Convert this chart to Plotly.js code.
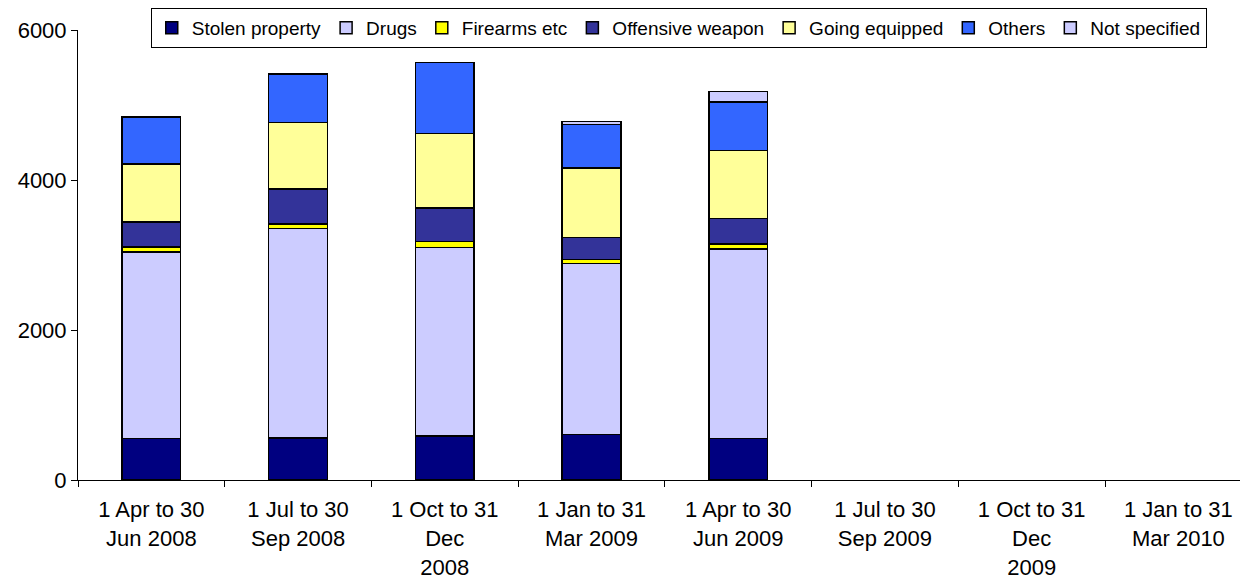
<!DOCTYPE html>
<html>
<head>
<meta charset="utf-8">
<script src="https://cdn.plot.ly/plotly-3.0.1.min.js"></script>
<style>html,body{margin:0;padding:0;background:#fff;}#chart{width:1240px;height:579px;}</style>
</head>
<body>
<div id="chart"></div>
<script>
const categories = [
  "1 Apr to 30<br>Jun 2008",
  "1 Jul to 30<br>Sep 2008",
  "1 Oct to 31<br>Dec<br>2008",
  "1 Jan to 31<br>Mar 2009",
  "1 Apr to 30<br>Jun 2009",
  "1 Jul to 30<br>Sep 2009",
  "1 Oct to 31<br>Dec<br>2009",
  "1 Jan to 31<br>Mar 2010"
];
const stolenProperty  = [555, 560, 587, 608, 555, null, null, null];
const drugs           = [2485, 2796, 2515, 2281, 2525, null, null, null];
const firearms        = [65, 57, 76, 49, 67, null, null, null];
const offensiveWeapon = [335, 467, 449, 293, 342, null, null, null];
const goingEquipped   = [775, 889, 995, 929, 902, null, null, null];
const others          = [625, 644, 942, 578, 649, null, null, null];
const notSpecified    = [0, 0, 0, 40, 142, null, null, null];

const seriesNames  = ["Stolen property", "Drugs", "Firearms etc", "Offensive weapon", "Going equipped", "Others", "Not specified"];
const seriesValues = [stolenProperty, drugs, firearms, offensiveWeapon, goingEquipped, others, notSpecified];
const seriesColors = ["#000080", "#CCCCFF", "#FFFF00", "#333399", "#FFFF99", "#3366FF", "#CCCCFF"];

const traces = seriesNames.map((name, i) => ({
  type: "bar",
  name: name,
  x: categories,
  y: seriesValues[i],
  width: 0.4,
  marker: { color: seriesColors[i], line: { color: "#000000", width: 1.5 } },
  hoverinfo: "x+y+name"
}));

const layout = {
  width: 1240,
  height: 579,
  margin: { l: 78, r: 0, t: 30, b: 99 },
  barmode: "stack",
  paper_bgcolor: "#ffffff",
  plot_bgcolor: "#ffffff",
  font: { family: "Liberation Sans, Arial, sans-serif", size: 22, color: "#000000" },
  showlegend: true,
  legend: {
    orientation: "h",
    x: 0.517, xanchor: "center",
    y: 1.049, yanchor: "top",
    bordercolor: "#000000", borderwidth: 1,
    bgcolor: "#ffffff",
    font: { size: 19, color: "#000000" },
    itemwidth: 30,
    tracegroupgap: 0,
    traceorder: "normal"
  },
  xaxis: {
    type: "category",
    range: [-0.5, 7.42],
    showline: true, linecolor: "#000000", linewidth: 1,
    ticks: "outside", tickson: "boundaries", ticklen: 6, tickcolor: "#000000",
    showgrid: false, zeroline: false,
    tickfont: { size: 22, color: "#000000" },
    ticklabelstandoff: 10,
    tickangle: 0
  },
  yaxis: {
    range: [0, 6000],
    tickvals: [0, 2000, 4000, 6000],
    showline: true, linecolor: "#000000", linewidth: 1,
    ticks: "outside", ticklen: 6, tickcolor: "#000000",
    showgrid: false, zeroline: false,
    tickfont: { size: 22, color: "#000000" }
  }
};

Plotly.newPlot("chart", traces, layout, { displayModeBar: false, staticPlot: true });
</script>
</body>
</html>
